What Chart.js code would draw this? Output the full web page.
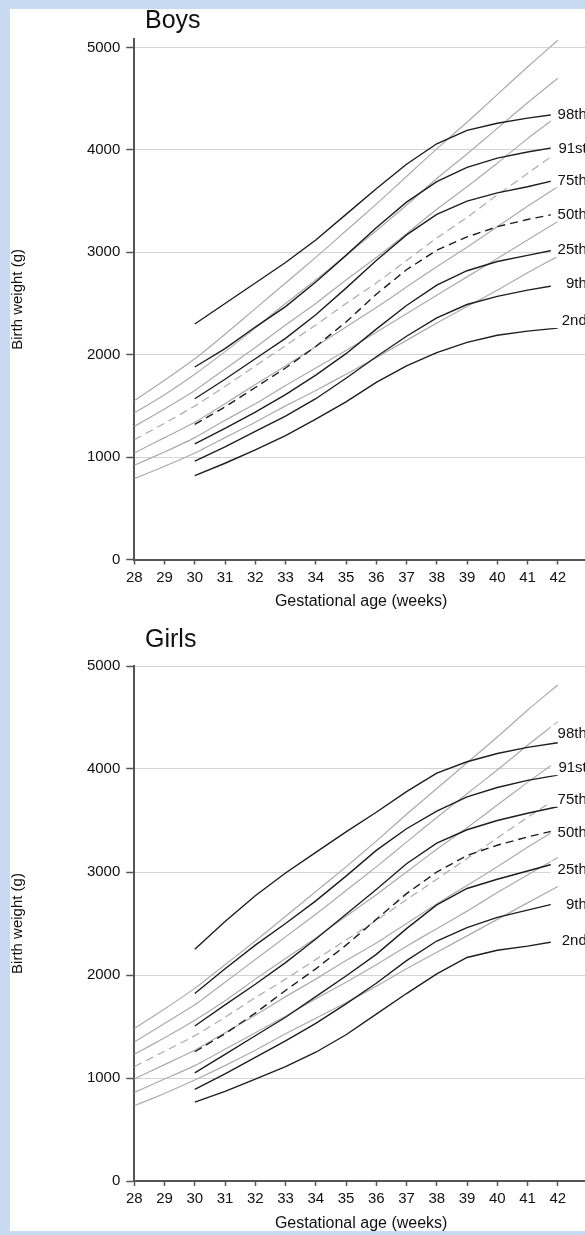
<!DOCTYPE html>
<html>
<head>
<meta charset="utf-8">
<script src="https://cdn.jsdelivr.net/npm/chart.js@4.4.1/dist/chart.umd.min.js"></script>
<style>
html, body { margin: 0; padding: 0; width: 585px; height: 1235px; overflow: hidden; background: #c8daf0; }
#panel { position: absolute; left: 10px; top: 9px; width: 600px; height: 1222px; background: #fff; }
canvas { position: absolute; left: 0; }
#boys { top: 0; }
#girls { top: 617px; }
</style>
</head>
<body>
<div id="panel"></div>
<canvas id="boys" width="588" height="617"></canvas>
<canvas id="girls" width="588" height="618"></canvas>
<script>
// gestational weeks and axis ticks
const weeksRef = [28, 29, 30, 31, 32, 33, 34, 35, 36, 37, 38, 39, 40, 41, 42];
const weeksCentile = [30, 31, 32, 33, 34, 35, 36, 37, 38, 39, 40, 41, 42];
const weightTicks = [0, 1000, 2000, 3000, 4000, 5000];
const centileNames = ['98th', '91st', '75th', '50th', '25th', '9th', '2nd'];

// boys - black centile curves (30-42 weeks)
const boys98 = [2300, 2500, 2700, 2900, 3120, 3370, 3620, 3860, 4060, 4190, 4260, 4310, 4350];
const boys91 = [1880, 2060, 2270, 2470, 2710, 2970, 3240, 3490, 3690, 3830, 3920, 3980, 4030];
const boys75 = [1570, 1760, 1960, 2160, 2390, 2650, 2920, 3170, 3370, 3500, 3580, 3640, 3710];
const boys50 = [1320, 1490, 1680, 1870, 2080, 2320, 2590, 2830, 3020, 3150, 3250, 3320, 3380];
const boys25 = [1130, 1280, 1440, 1610, 1800, 2010, 2250, 2480, 2680, 2820, 2910, 2970, 3030];
const boys9 = [960, 1100, 1250, 1400, 1570, 1770, 1980, 2180, 2360, 2490, 2570, 2630, 2680];
const boys2 = [820, 940, 1070, 1210, 1370, 1540, 1730, 1890, 2020, 2120, 2190, 2230, 2260];

// boys - grey reference curves (28-42 weeks)
const boysRef98 = [1550, 1750, 1960, 2200, 2450, 2700, 2950, 3210, 3470, 3740, 4010, 4270, 4540, 4810, 5070];
const boysRef91 = [1430, 1610, 1810, 2030, 2260, 2500, 2730, 2970, 3210, 3460, 3720, 3960, 4210, 4460, 4700];
const boysRef75 = [1300, 1470, 1650, 1860, 2070, 2290, 2500, 2730, 2950, 3180, 3420, 3640, 3870, 4110, 4330];
const boysRef50 = [1170, 1330, 1500, 1690, 1890, 2090, 2290, 2500, 2700, 2920, 3140, 3340, 3560, 3770, 3980];
const boysRef25 = [1040, 1190, 1340, 1520, 1710, 1890, 2080, 2270, 2460, 2660, 2860, 3050, 3250, 3450, 3640];
const boysRef9 = [920, 1050, 1190, 1360, 1520, 1700, 1870, 2040, 2220, 2400, 2580, 2760, 2940, 3120, 3300];
const boysRef2 = [790, 910, 1040, 1190, 1340, 1500, 1650, 1810, 1970, 2140, 2310, 2470, 2630, 2800, 2960];

// girls - black centile curves (30-42 weeks)
const girls98 = [2250, 2520, 2770, 2990, 3190, 3390, 3580, 3780, 3960, 4070, 4150, 4210, 4255];
const girls91 = [1820, 2060, 2290, 2500, 2720, 2960, 3210, 3420, 3590, 3730, 3820, 3890, 3940];
const girls75 = [1505, 1710, 1910, 2120, 2350, 2590, 2830, 3080, 3280, 3410, 3500, 3570, 3634];
const girls50 = [1255, 1430, 1630, 1850, 2060, 2290, 2540, 2790, 3000, 3160, 3260, 3340, 3410];
const girls25 = [1050, 1230, 1410, 1590, 1790, 1990, 2200, 2450, 2680, 2840, 2930, 3010, 3090];
const girls9 = [890, 1040, 1200, 1360, 1530, 1720, 1920, 2140, 2330, 2460, 2560, 2630, 2700];
const girls2 = [765, 870, 990, 1110, 1250, 1420, 1620, 1820, 2010, 2170, 2240, 2280, 2330];

// girls - grey reference curves (28-42 weeks)
const girlsRef98 = [1480, 1670, 1870, 2100, 2330, 2570, 2810, 3050, 3300, 3560, 3810, 4060, 4310, 4570, 4816];
const girlsRef91 = [1350, 1530, 1710, 1930, 2150, 2370, 2590, 2820, 3050, 3290, 3530, 3760, 3990, 4230, 4460];
const girlsRef75 = [1230, 1390, 1560, 1750, 1960, 2160, 2360, 2570, 2780, 3000, 3220, 3430, 3650, 3870, 4080];
const girlsRef50 = [1110, 1260, 1410, 1590, 1780, 1960, 2150, 2340, 2530, 2730, 2930, 3130, 3330, 3530, 3720];
const girlsRef25 = [990, 1130, 1270, 1440, 1610, 1790, 1960, 2140, 2310, 2500, 2690, 2870, 3050, 3240, 3420];
const girlsRef9 = [860, 990, 1120, 1280, 1440, 1600, 1770, 1930, 2100, 2280, 2450, 2620, 2800, 2970, 3140];
const girlsRef2 = [730, 850, 980, 1120, 1270, 1430, 1580, 1730, 1890, 2060, 2220, 2380, 2540, 2700, 2860];

const FONT = '"Liberation Sans", Arial, sans-serif';

function points(weeks, values) {
    return values.map((v, i) => ({ x: weeks[i], y: v }));
}

// centile names at the right end, on white boxes, plus the panel title
const centileLabels = {
    id: 'centileLabels',
    afterDatasetsDraw(chart, args, o) {
        let ctx = chart.ctx;
        let xs = chart.scales.x, ys = chart.scales.y;
        let x42 = xs.getPixelForValue(42);
        ctx.save();
        ctx.font = '15px ' + FONT;
        ctx.textAlign = 'right';
        ctx.textBaseline = 'middle';
        o.series.forEach((s, i) => {
            let y = ys.getPixelForValue(s[s.length - 1]) + o.dy[i];
            ctx.fillStyle = '#fff';
            ctx.fillRect(x42 - 7, y - 8, 60, 16);
            ctx.fillStyle = '#111';
            ctx.fillText(centileNames[i], x42 + 29, y + 1);
        });
        ctx.font = '25px ' + FONT;
        ctx.textAlign = 'left';
        ctx.textBaseline = 'alphabetic';
        ctx.fillText(o.title, 145, o.titleY);
        ctx.restore();
    }
};

function createChart(id, title, centiles, refs, lay) {
    let ctx = document.getElementById(id).getContext('2d');

    let datasets = [];
    centiles.forEach((vals, i) => {
        datasets.push({
            data: points(weeksCentile, vals),
            borderColor: '#1e1e1e',
            borderWidth: 1.4,
            borderDash: i == 3 ? [8, 5] : [],
            pointRadius: 0,
            tension: 0
        });
    });
    refs.forEach((vals, i) => {
        datasets.push({
            data: points(weeksRef, vals),
            borderColor: '#ababab',
            borderWidth: 1.2,
            borderDash: i == 3 ? [8, 5] : [],
            pointRadius: 0,
            tension: 0.2
        });
    });

    return new Chart(ctx, {
        type: 'line',
        data: { datasets: datasets },
        plugins: [centileLabels],
        options: {
            responsive: false,
            animation: false,
            devicePixelRatio: 1,
            layout: { padding: { top: lay.top, left: 0, right: 0, bottom: 0 } },
            plugins: {
                legend: { display: false },
                tooltip: { enabled: false },
                centileLabels: { series: centiles, dy: lay.dy, title: title, titleY: lay.titleY }
            },
            scales: {
                x: {
                    type: 'linear',
                    min: 28,
                    max: 43,
                    afterBuildTicks: s => { s.ticks = weeksRef.map(v => ({ value: v })); },
                    afterFit: s => { s.height = lay.xHeight; },
                    grid: { drawOnChartArea: false, drawTicks: true, tickLength: 5, tickColor: '#555', tickWidth: 1.5 },
                    border: { color: '#555', width: 2 },
                    ticks: { color: '#111', font: { size: 15, family: FONT }, padding: 4, maxRotation: 0, autoSkip: false,
                        callback: v => String(v) },
                    title: { display: true, text: 'Gestational age (weeks)', color: '#111',
                        font: { size: 16, family: FONT }, padding: { top: 0, bottom: lay.xTitlePad } }
                },
                y: {
                    type: 'linear',
                    min: 0,
                    max: lay.yMax,
                    afterBuildTicks: s => { s.ticks = weightTicks.map(v => ({ value: v })); },
                    afterFit: s => { s.width = 134.3; },
                    grid: {
                        color: c => (c.tick && c.tick.value === 0) ? 'rgba(0,0,0,0)' : '#d3d3d3',
                        lineWidth: 1, tickLength: 8, tickColor: '#555', tickWidth: 1.5
                    },
                    border: { color: '#555', width: 2 },
                    ticks: { color: '#111', font: { size: 15, family: FONT }, padding: 6, callback: v => String(v) },
                    title: { display: true, text: 'Birth weight (g)', color: '#111',
                        font: { size: 15, family: FONT }, padding: { top: 9, bottom: 0 } }
                }
            }
        }
    });
}

createChart('boys', 'Boys',
    [boys98, boys91, boys75, boys50, boys25, boys9, boys2],
    [boysRef98, boysRef91, boysRef75, boysRef50, boysRef25, boysRef9, boysRef2],
    { top: 39.3, yMax: 5080, xHeight: 57.5, xTitlePad: 5.7, titleY: 28, dy: [0, 1, 0, 0, 0, -2, -8] });

createChart('girls', 'Girls',
    [girls98, girls91, girls75, girls50, girls25, girls9, girls2],
    [girlsRef98, girlsRef91, girlsRef75, girlsRef50, girlsRef25, girlsRef9, girlsRef2],
    { top: 49, yMax: 5000, xHeight: 54, xTitlePad: 1.5, titleY: 29.5, dy: [-10, -8, -8, 2, 6, 1, -1] });
</script>
</body>
</html>
